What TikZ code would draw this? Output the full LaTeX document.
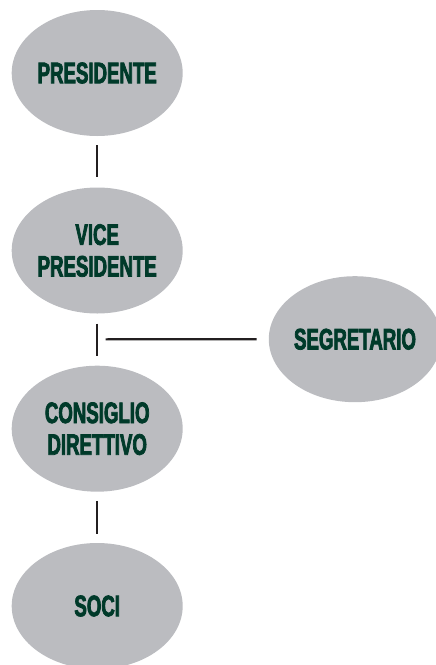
\documentclass[tikz,border=0pt]{standalone}
\usepackage{fontspec}
\usetikzlibrary{shapes.geometric}
\newfontfamily\labfont{Liberation Sans Bold}[FakeStretch=0.63, FakeBold=2.5]
\definecolor{ovalgrey}{HTML}{BBBCC0}
\definecolor{textgreen}{HTML}{003A2A}
\definecolor{linegrey}{HTML}{231F20}
\begin{document}
\begin{tikzpicture}[x=1pt,y=1pt,
  oval/.style={ellipse, fill=ovalgrey, draw=none, minimum width=171pt, minimum height=126pt, inner sep=0pt,
    text=textgreen, align=center, font=\labfont\fontsize{29.6}{31.7}\selectfont},
  conn/.style={draw=linegrey, line width=2.1pt}]
\clip (0,0) rectangle (436,-665);
\node[oval] (pres) at (97.2,-73) {PRESIDENTE};
\node[oval] (vice) at (97.2,-250.5) {VICE\\PRESIDENTE};
\node[oval] (cons) at (97.2,-428.7) {CONSIGLIO\\DIRETTIVO};
\node[oval] (segr) at (355,-339.2) {SEGRETARIO};
\node[oval] (soci) at (97.2,-606) {SOCI};
\coordinate (junc) at (97.2,-339.3);
\draw[conn, shorten <=9pt, shorten >=10pt] (pres) -- (vice);
\draw[conn, shorten <=10pt, shorten >=10pt] (vice) -- (cons);
\draw[conn, shorten <=8.5pt, shorten >=12pt] (junc) -- (segr.west);
\draw[conn, shorten <=9pt, shorten >=9.3pt] (cons) -- (soci);
\end{tikzpicture}
\end{document}
